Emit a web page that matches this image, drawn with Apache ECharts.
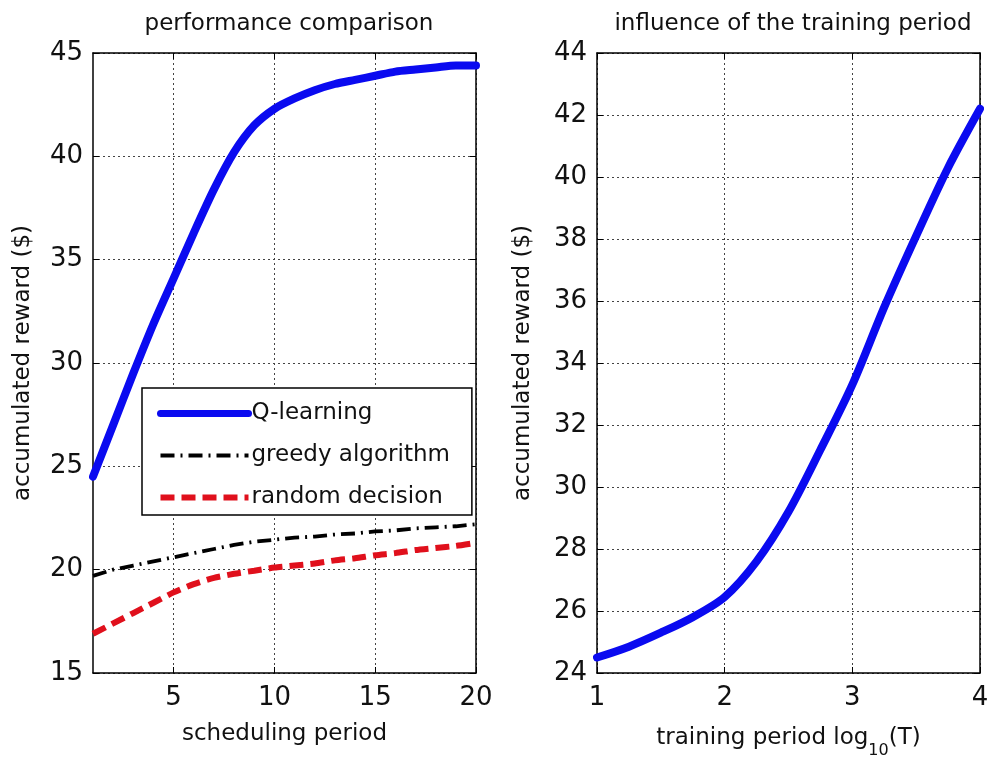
<!DOCTYPE html>
<html>
<head>
<meta charset="utf-8">
<script src="https://cdn.jsdelivr.net/npm/echarts@6/dist/echarts.min.js"></script>
<style>
  html, body { margin: 0; padding: 0; background: #fff; }
  #chart { width: 990px; height: 758px; }
</style>
</head>
<body>
<div id="chart"></div>
<script>
// Left panel: accumulated reward versus scheduling period
const schedulingPeriod = [1,2,3,4,5,6,7,8,9,10,11,12,13,14,15,16,17,18,19,20];
const qLearning = [24.5,27.0,29.5,31.9,34.1,36.3,38.4,40.2,41.5,42.3,42.8,43.2,43.5,43.7,43.9,44.1,44.2,44.3,44.4,44.4];
const greedyAlgorithm = [19.7,20.0,20.2,20.4,20.6,20.8,21.0,21.2,21.35,21.45,21.55,21.6,21.7,21.75,21.85,21.9,22.0,22.05,22.1,22.2];
const randomDecision = [16.9,17.4,17.9,18.4,18.9,19.3,19.6,19.8,19.95,20.1,20.2,20.3,20.45,20.55,20.7,20.8,20.95,21.05,21.15,21.3];

// Right panel: accumulated reward versus training period (log10 T)
const trainingLog = [1.0,1.25,1.5,1.75,2.0,2.25,2.5,2.75,3.0,3.25,3.5,3.75,4.0];
const trainingReward = [24.5,24.85,25.3,25.8,26.45,27.6,29.2,31.2,33.3,35.8,38.1,40.3,42.2];

const leftXTicks = [5,10,15,20];
const seriesNames = ['Q-learning','greedy algorithm','random decision'];
const panelTitles = ['performance comparison','influence of the training period'];

const FONT = 'DejaVu Sans';
const BLUE = '#0a0af0';
const RED = '#e0101c';
const pairs = (xs, ys) => xs.map((x, i) => [x, ys[i]]);

const gridLine = { show: true, lineStyle: { color: '#444', type: [2, 3], width: 1 } };
const tickIn = { show: true, inside: true, length: 6, lineStyle: { color: '#000', width: 1 } };
const axisLn = { show: true, onZero: false, lineStyle: { color: '#000', width: 1.5 } };
const tickLabel = { color: '#111', fontFamily: FONT, fontSize: 26 };
const nameStyle = { color: '#111', fontFamily: FONT, fontSize: 23 };

// line styles shared by the series and their legend samples
const qStyle = { color: BLUE, width: 8, cap: 'round', join: 'round' };
const greedyStyle = { color: '#000', width: 3.8, type: [14, 6, 2, 6] };
const randomStyle = { color: RED, width: 6, type: [14, 7] };

const chart = echarts.init(document.getElementById('chart'), null, { renderer: 'canvas' });

chart.setOption({
  backgroundColor: '#fff',
  animation: false,
  title: [
    { text: panelTitles[0], left: 284, top: 8, textAlign: 'center',
      textStyle: { fontFamily: FONT, fontSize: 23, fontWeight: 'normal', color: '#111' } },
    { text: panelTitles[1], left: 788, top: 8, textAlign: 'center',
      textStyle: { fontFamily: FONT, fontSize: 23, fontWeight: 'normal', color: '#111' } }
  ],
  legend: {
    data: [
      { name: seriesNames[0], lineStyle: { width: 7, color: BLUE } },
      { name: seriesNames[1], lineStyle: { width: 3.8, color: '#000', type: [14, 6, 2, 6] } },
      { name: seriesNames[2], lineStyle: { width: 6, color: RED, type: [14, 7] } }
    ],
    orient: 'vertical',
    left: 142, top: 388,
    itemWidth: 88, itemHeight: 10, itemGap: 19,
    padding: [14, 22, 6, 15],
    backgroundColor: '#fff',
    borderColor: '#000', borderWidth: 1.5, borderRadius: 0,
    itemStyle: { opacity: 0 },
    textStyle: { fontFamily: FONT, fontSize: 23, color: '#111', padding: [0, 0, 0, -2] }
  },
  grid: [
    { left: 93, right: 514, top: 53, bottom: 85, containLabel: false, outerBoundsMode: 'none' },
    { left: 597, right: 10, top: 53, bottom: 85, containLabel: false, outerBoundsMode: 'none' }
  ],
  xAxis: [
    { type: 'value', gridIndex: 0, min: 1, max: 20, position: 'bottom',
      axisLine: axisLn,
      axisTick: Object.assign({ customValues: leftXTicks }, tickIn),
      axisLabel: Object.assign({ customValues: leftXTicks, margin: 12 }, tickLabel),
      splitLine: gridLine,
      name: 'scheduling period', nameLocation: 'middle', nameGap: 50, nameTextStyle: nameStyle },
    { type: 'value', gridIndex: 0, min: 1, max: 20, position: 'top',
      axisLine: axisLn,
      axisTick: Object.assign({ customValues: leftXTicks }, tickIn),
      axisLabel: { show: false }, splitLine: { show: false } },
    { type: 'value', gridIndex: 1, min: 1, max: 4, interval: 1, position: 'bottom',
      axisLine: axisLn, axisTick: tickIn,
      axisLabel: Object.assign({ margin: 12 }, tickLabel),
      splitLine: gridLine,
      name: '{a|training period log}{s|10}{a|(T)}', nameLocation: 'middle', nameGap: 44,
      nameTextStyle: { rich: {
        a: { fontFamily: FONT, fontSize: 23, color: '#111' },
        s: { fontFamily: FONT, fontSize: 16, color: '#111', padding: [26, 0, 0, 0] }
      } } },
    { type: 'value', gridIndex: 1, min: 1, max: 4, interval: 1, position: 'top',
      axisLine: axisLn, axisTick: tickIn,
      axisLabel: { show: false }, splitLine: { show: false } }
  ],
  yAxis: [
    { type: 'value', gridIndex: 0, min: 15, max: 45, interval: 5, position: 'left',
      axisLine: axisLn, axisTick: tickIn,
      axisLabel: Object.assign({ margin: 10 }, tickLabel),
      splitLine: gridLine,
      name: 'accumulated reward ($)', nameLocation: 'middle', nameGap: 58, nameTextStyle: nameStyle },
    { type: 'value', gridIndex: 0, min: 15, max: 45, interval: 5, position: 'right',
      axisLine: axisLn, axisTick: tickIn,
      axisLabel: { show: false }, splitLine: { show: false } },
    { type: 'value', gridIndex: 1, min: 24, max: 44, interval: 2, position: 'left',
      axisLine: axisLn, axisTick: tickIn,
      axisLabel: Object.assign({ margin: 10 }, tickLabel),
      splitLine: gridLine,
      name: 'accumulated reward ($)', nameLocation: 'middle', nameGap: 62, nameTextStyle: nameStyle },
    { type: 'value', gridIndex: 1, min: 24, max: 44, interval: 2, position: 'right',
      axisLine: axisLn, axisTick: tickIn,
      axisLabel: { show: false }, splitLine: { show: false } }
  ],
  series: [
    { name: seriesNames[0], type: 'line', xAxisIndex: 0, yAxisIndex: 0,
      data: pairs(schedulingPeriod, qLearning), symbol: 'none', smooth: 0.25,
      lineStyle: qStyle, itemStyle: { color: BLUE }, z: 5 },
    { name: seriesNames[1], type: 'line', xAxisIndex: 0, yAxisIndex: 0,
      data: pairs(schedulingPeriod, greedyAlgorithm), symbol: 'none',
      lineStyle: greedyStyle, itemStyle: { color: '#000' }, z: 4 },
    { name: seriesNames[2], type: 'line', xAxisIndex: 0, yAxisIndex: 0,
      data: pairs(schedulingPeriod, randomDecision), symbol: 'none', smooth: 0.2,
      lineStyle: randomStyle, itemStyle: { color: RED }, z: 4 },
    { name: 'training', type: 'line', xAxisIndex: 2, yAxisIndex: 2,
      data: pairs(trainingLog, trainingReward), symbol: 'none', smooth: 0.3,
      lineStyle: qStyle, itemStyle: { color: BLUE }, z: 5 }
  ]
});
</script>
</body>
</html>
